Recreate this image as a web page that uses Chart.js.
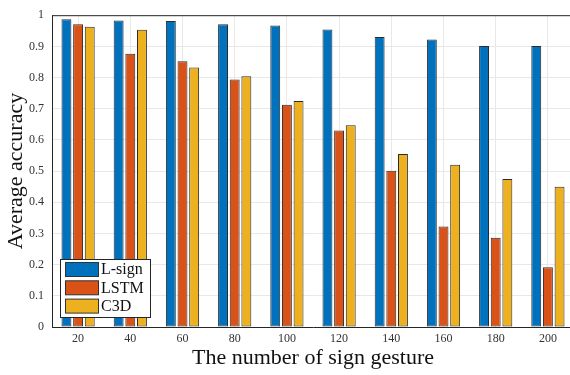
<!DOCTYPE html>
<html>
<head>
<meta charset="utf-8">
<script src="https://cdn.jsdelivr.net/npm/chart.js@4/dist/chart.umd.min.js"></script>
<style>
  html, body { margin: 0; padding: 0; background: #fff; overflow: hidden; }
  #wrap { position: relative; width: 576px; height: 375px; }
</style>
</head>
<body>
<div id="wrap"><canvas id="chart"></canvas></div>
<script>
// categories and series values
const gestures = ['20', '40', '60', '80', '100', '120', '140', '160', '180', '200'];
const lsign = [0.987, 0.983, 0.981, 0.971, 0.967, 0.954, 0.930, 0.922, 0.901, 0.901];
const lstm  = [0.971, 0.876, 0.852, 0.794, 0.713, 0.630, 0.501, 0.322, 0.286, 0.192];
const c3d   = [0.963, 0.953, 0.832, 0.804, 0.725, 0.647, 0.555, 0.520, 0.475, 0.450];
const yTicks = [0, 0.1, 0.2, 0.3, 0.4, 0.5, 0.6, 0.7, 0.8, 0.9, 1];

const serif = '"Liberation Serif", "Times New Roman", serif';
const axisColor = '#262626';

// frame round the plot (top line) like a matlab box
const boxPlugin = {
    id: 'boxFrame',
    afterDatasetsDraw(chart) {
        const { ctx, chartArea: a } = chart;
        ctx.save();
        ctx.strokeStyle = axisColor;
        ctx.lineWidth = 1;
        ctx.beginPath();
        ctx.moveTo(a.left, a.top + 0.5);
        ctx.lineTo(a.right, a.top + 0.5);
        ctx.stroke();
        ctx.restore();
    }
};

// legend drawn inside the plot, bottom left
const insideLegend = {
    id: 'insideLegend',
    afterDraw(chart) {
        const { ctx } = chart;
        const x = 60.5, y = 259.5, w = 90, h = 58;
        ctx.save();
        ctx.fillStyle = '#fff';
        ctx.fillRect(x, y, w, h);
        ctx.strokeStyle = axisColor;
        ctx.lineWidth = 1;
        ctx.strokeRect(x, y, w, h);
        ctx.font = '16px ' + serif;
        ctx.textBaseline = 'middle';
        chart.data.datasets.forEach((ds, i) => {
            const sy = 262.5 + i * 18.3;
            ctx.fillStyle = ds.backgroundColor;
            ctx.fillRect(65.5, sy, 33, 14);
            ctx.strokeStyle = '#333';
            ctx.strokeRect(65.5, sy, 33, 14);
            ctx.fillStyle = '#111';
            ctx.fillText(ds.label, 101, sy + 7.5);
        });
        ctx.restore();
    }
};

new Chart(document.getElementById('chart'), {
    type: 'bar',
    data: {
        labels: gestures,
        datasets: [
            { label: 'L-sign', data: lsign, backgroundColor: '#0072BD' },
            { label: 'LSTM', data: lstm, backgroundColor: '#D95319' },
            { label: 'C3D', data: c3d, backgroundColor: '#EDB120' }
        ]
    },
    options: {
        responsive: true,
        maintainAspectRatio: false,
        animation: false,
        layout: { padding: { top: 10, right: 2, left: 0, bottom: 0 } },
        datasets: {
            bar: {
                borderColor: '#2b2b2b',
                borderWidth: 1,
                borderSkipped: false,
                categoryPercentage: 0.67,
                barPercentage: 0.85
            }
        },
        plugins: {
            legend: { display: false },
            tooltip: { enabled: false }
        },
        scales: {
            x: {
                offset: true,
                grid: { offset: false, color: '#e8e8e8', drawTicks: false },
                border: { color: axisColor, width: 1 },
                ticks: { padding: 5, color: '#333', font: { family: serif, size: 12 } },
                title: {
                    display: true,
                    text: 'The number of sign gesture',
                    color: '#111',
                    font: { family: serif, size: 22 },
                    padding: { top: 0, bottom: 4 }
                },
                afterFit(scale) { scale.height = 48; }
            },
            y: {
                min: 0,
                max: 1,
                afterBuildTicks(scale) { scale.ticks = yTicks.map(v => ({ value: v })); },
                grid: { color: '#e8e8e8', drawTicks: false },
                border: { color: axisColor, width: 1 },
                ticks: {
                    padding: 8,
                    color: '#333',
                    font: { family: serif, size: 12 },
                    callback: v => String(Math.round(v * 10) / 10)
                },
                title: {
                    display: true,
                    text: 'Average accuracy',
                    color: '#111',
                    font: { family: serif, size: 22 },
                    padding: { top: 3, bottom: 0 }
                },
                afterFit(scale) { scale.width = 52; }
            }
        }
    },
    plugins: [boxPlugin, insideLegend]
});
</script>
</body>
</html>
